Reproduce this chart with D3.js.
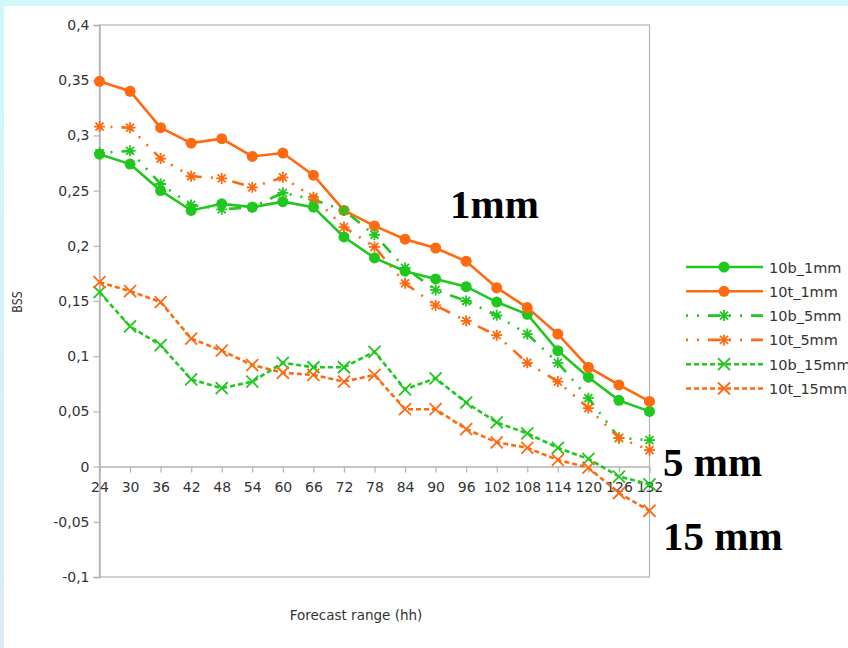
<!DOCTYPE html>
<html>
<head>
<meta charset="utf-8">
<script src="https://cdn.jsdelivr.net/npm/d3@7"></script>
<style>
  body { margin: 0; background: #fff; }
  svg text { font-family: "DejaVu Sans", sans-serif; fill: #333; }
</style>
</head>
<body>
<div id="container"></div>
<script>
// Forecast ranges (hh) on the x axis
const categories = [24, 30, 36, 42, 48, 54, 60, 66, 72, 78, 84, 90, 96, 102, 108, 114, 120, 126, 132];

// BSS values
const b1mm = [0.283, 0.274, 0.250, 0.232, 0.238, 0.235, 0.240, 0.235, 0.208, 0.189, 0.177, 0.170, 0.163, 0.149, 0.138, 0.105, 0.081, 0.060, 0.050];
const t1mm = [0.349, 0.340, 0.307, 0.293, 0.297, 0.281, 0.284, 0.264, 0.232, 0.218, 0.206, 0.198, 0.186, 0.162, 0.144, 0.120, 0.090, 0.074, 0.059];
const b5mm = [0.284, 0.286, 0.256, 0.237, 0.233, 0.235, 0.248, 0.242, 0.232, 0.210, 0.180, 0.160, 0.150, 0.137, 0.120, 0.094, 0.062, 0.026, 0.024];
const t5mm = [0.308, 0.307, 0.279, 0.263, 0.261, 0.253, 0.262, 0.244, 0.217, 0.199, 0.166, 0.146, 0.132, 0.119, 0.094, 0.077, 0.053, 0.026, 0.015];
const b15mm = [0.158, 0.127, 0.110, 0.079, 0.071, 0.077, 0.094, 0.090, 0.090, 0.104, 0.070, 0.080, 0.058, 0.040, 0.030, 0.017, 0.007, -0.009, -0.016];
const t15mm = [0.167, 0.159, 0.149, 0.116, 0.105, 0.092, 0.085, 0.083, 0.077, 0.083, 0.052, 0.052, 0.034, 0.022, 0.017, 0.006, -0.001, -0.024, -0.040];

const seriesNames = ["10b_1mm", "10t_1mm", "10b_5mm", "10t_5mm", "10b_15mm", "10t_15mm"];
const yTicks = [0.4, 0.35, 0.3, 0.25, 0.2, 0.15, 0.1, 0.05, 0, -0.05, -0.1];
const yTickLabels = ["0,4", "0,35", "0,3", "0,25", "0,2", "0,15", "0,1", "0,05", "0", "-0,05", "-0,1"];
const notes = ["1mm", "5 mm", "15 mm"];

const green = "#1fc71f";
const orange = "#ff6a10";
const axisGray = "#b3b3b3";

// styling for each series, in legend order
const styles = [
  { values: b1mm, color: green, dash: null, marker: "circle" },
  { values: t1mm, color: orange, dash: null, marker: "circle" },
  { values: b5mm, color: green, dash: "2,9,2,9,12,9", marker: "star" },
  { values: t5mm, color: orange, dash: "2,9,2,9,12,9", marker: "star" },
  { values: b15mm, color: green, dash: "5,3", marker: "cross" },
  { values: t15mm, color: orange, dash: "5,3", marker: "cross" }
];

const width = 848, height = 648;
const svg = d3.create("svg").attr("width", width).attr("height", height);
container.append(svg.node());

// slide-like background: cyan strip on top, fading blue strip on the left
const defs = svg.append("defs");
const grad = defs.append("linearGradient").attr("id", "side").attr("x1", 0).attr("x2", 0).attr("y1", 0).attr("y2", 1);
grad.append("stop").attr("offset", 0).attr("stop-color", "#cef8fa");
grad.append("stop").attr("offset", 1).attr("stop-color", "#dceaf8");
svg.append("rect").attr("width", width).attr("height", height).attr("fill", "url(#side)");
svg.append("rect").attr("width", width).attr("height", 6).attr("fill", "#cef8fa");
svg.append("rect").attr("x", 4).attr("y", 6).attr("width", width - 4).attr("height", height - 6).attr("fill", "#fff");

const x = d3.scalePoint().domain(categories).range([99.5, 649.5]);
const y = d3.scaleLinear().domain([-0.1, 0.4]).range([577, 25]);

// plot frame
svg.append("rect")
  .attr("x", x(24)).attr("y", y(0.4))
  .attr("width", x(132) - x(24)).attr("height", y(-0.1) - y(0.4))
  .attr("fill", "none").attr("stroke", axisGray).attr("stroke-width", 1.2);

// y axis
const yAxis = svg.append("g")
  .attr("transform", `translate(${x(24)},0)`)
  .call(d3.axisLeft(y).tickValues(yTicks).tickSize(6).tickPadding(4)
    .tickFormat((d, i) => yTickLabels[i]));
yAxis.selectAll("line").attr("stroke", axisGray).attr("stroke-width", 1.2);
yAxis.select(".domain").attr("stroke", axisGray).attr("stroke-width", 1.5);
yAxis.selectAll("text").style("font-size", "14px").attr("fill", "#333");

// x axis along zero
const xAxis = svg.append("g")
  .attr("transform", `translate(0,${y(0)})`)
  .call(d3.axisBottom(x).tickSize(6).tickPadding(9).tickSizeOuter(0));
xAxis.selectAll("line").attr("stroke", axisGray).attr("stroke-width", 1.2);
xAxis.select(".domain").attr("stroke", axisGray).attr("stroke-width", 1.5);
xAxis.selectAll("text").style("font-size", "14px").attr("fill", "#333");

// axis titles
svg.append("text")
  .attr("transform", "translate(22,302) rotate(-90) scale(1,1.3)")
  .attr("text-anchor", "middle")
  .style("font-size", "11px")
  .text("BSS");
svg.append("text")
  .attr("x", 356).attr("y", 620)
  .attr("text-anchor", "middle")
  .style("font-size", "13.5px")
  .text("Forecast range (hh)");

// marker drawing helper
const drawMarker = function (g, type, color) {
  if (type === "circle") {
    g.append("circle").attr("r", 5.5).attr("fill", color);
  } else if (type === "star") {
    const s = 5.5, d = 4;
    g.append("path")
      .attr("d", `M0,${-s}V${s}M${-s},0H${s}M${-d},${-d}L${d},${d}M${-d},${d}L${d},${-d}`)
      .attr("stroke", color).attr("stroke-width", 1.8).attr("fill", "none");
  } else {
    const s = 6;
    g.append("path")
      .attr("d", `M${-s},${-s}L${s},${s}M${-s},${s}L${s},${-s}`)
      .attr("stroke", color).attr("stroke-width", 1.8).attr("fill", "none");
  }
}

const line = d3.line().x((d, i) => x(categories[i])).y(d => y(d));

styles.forEach((s, k) => {
  const g = svg.append("g").attr("class", "series-" + k);
  g.append("path")
    .attr("d", line(s.values))
    .attr("fill", "none")
    .attr("stroke", s.color)
    .attr("stroke-width", 2.6)
    .attr("stroke-dasharray", s.dash);
  s.values.forEach((v, i) => {
    const m = g.append("g").attr("transform", `translate(${x(categories[i])},${y(v)})`);
    drawMarker(m, s.marker, s.color);
  });
});

// legend
const legend = svg.append("g").attr("transform", "translate(686,267)");
styles.forEach((s, k) => {
  const row = legend.append("g").attr("transform", `translate(0,${k * 24.3})`);
  row.append("line")
    .attr("x1", 0).attr("x2", 77).attr("y1", 0).attr("y2", 0)
    .attr("stroke", s.color).attr("stroke-width", 2.6)
    .attr("stroke-dasharray", s.dash);
  drawMarker(row.append("g").attr("transform", "translate(38,0)"), s.marker, s.color);
  row.append("text")
    .attr("x", 83).attr("y", 5.5)
    .style("font-size", "14.5px")
    .text(seriesNames[k]);
});

// annotations
const notePos = [[450, 218], [663, 476], [663, 550]];
svg.selectAll(".note")
  .data(notes)
  .join("text")
  .attr("class", "note")
  .attr("x", (d, i) => notePos[i][0])
  .attr("y", (d, i) => notePos[i][1])
  .style("font-family", "'Liberation Serif', 'Times New Roman', serif")
  .style("font-weight", "bold")
  .style("font-size", "41px")
  .style("fill", "#000")
  .text(d => d);
</script>
</body>
</html>
